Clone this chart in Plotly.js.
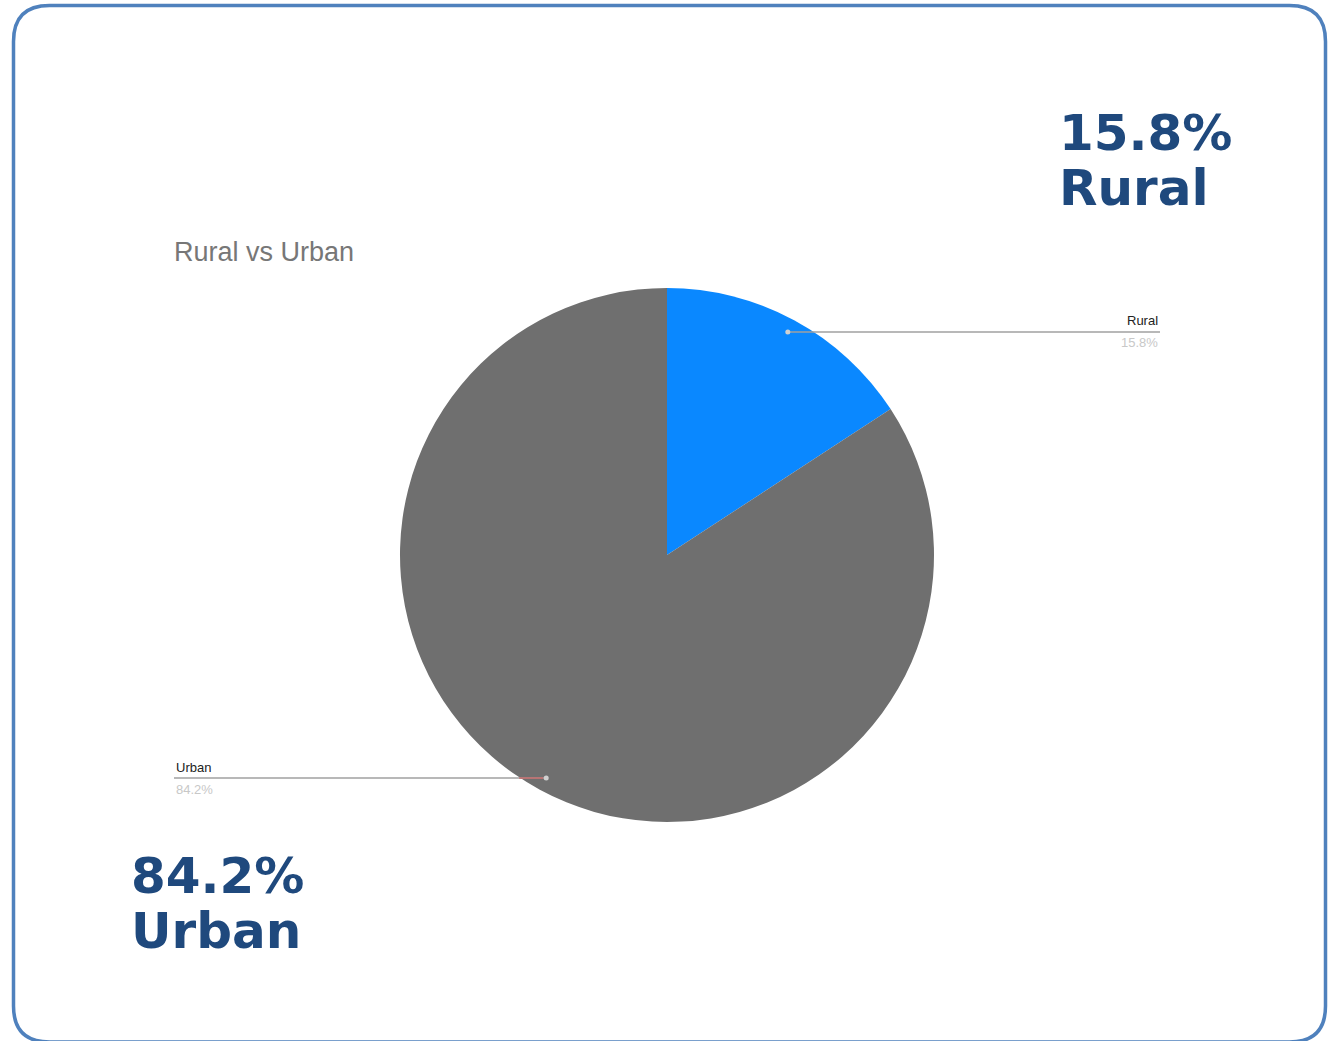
<!DOCTYPE html>
<html>
<head>
<meta charset="utf-8">
<script src="https://cdn.plot.ly/plotly-3.0.1.min.js"></script>
<style>html,body{margin:0;padding:0;background:#fff;}#chart{width:1334px;height:1041px;}</style>
</head>
<body>
<div id="chart"></div>
<script>
// ---- data ----
const categories = ["Rural", "Urban"];
const shares = [15.8, 84.2];
const sliceColors = ["#0a88ff", "#6f6f6f"];
const chartTitle = "Rural vs Urban";

// ---- layout helpers ----
const W = 1334, H = 1041;
const px = x => x / W;
const py = y => 1 - y / H;

// pie geometry (pixels)
const cx = 667, cy = 555, R = 267;
const total = shares.reduce((a, b) => a + b, 0);

// mid-angle of each slice (clockwise from 12 o'clock)
let acc = 0;
const mids = shares.map(v => { const m = (acc + v / 2) / total * 2 * Math.PI; acc += v; return m; });
const anchors = mids.map(a => ({ x: cx + 0.95 * R * Math.sin(a), y: cy - 0.95 * R * Math.cos(a) }));

const shapes = [];
// rounded border
const L = 13.5, T = 5.5, Rt = 1325.5, B = 1042, r = 36;
const path = `M ${px(L + r)},${py(T)} L ${px(Rt - r)},${py(T)} Q ${px(Rt)},${py(T)} ${px(Rt)},${py(T + r)} ` +
  `L ${px(Rt)},${py(B - r)} Q ${px(Rt)},${py(B)} ${px(Rt - r)},${py(B)} L ${px(L + r)},${py(B)} ` +
  `Q ${px(L)},${py(B)} ${px(L)},${py(B - r)} L ${px(L)},${py(T + r)} Q ${px(L)},${py(T)} ${px(L + r)},${py(T)} Z`;
shapes.push({ type: "path", xref: "paper", yref: "paper", path: path, line: { color: "#4f81bd", width: 3.5 } });

// leader lines
const labelEnds = [1160, 174];
anchors.forEach((p, i) => {
  shapes.push({ type: "line", xref: "paper", yref: "paper", x0: px(p.x), y0: py(p.y), x1: px(labelEnds[i]), y1: py(p.y),
    line: { color: "#a0a0a0", width: 1.5 } });
  shapes.push({ type: "circle", xref: "paper", yref: "paper", x0: px(p.x - 2.5), x1: px(p.x + 2.5), y0: py(p.y - 2.5), y1: py(p.y + 2.5),
    fillcolor: "#d0d0d0", line: { width: 0 } });
});
// reddish segment near urban anchor
shapes.push({ type: "line", xref: "paper", yref: "paper", x0: px(anchors[1].x - 27), y0: py(anchors[1].y), x1: px(anchors[1].x - 3), y1: py(anchors[1].y),
  line: { color: "#c46a6a", width: 1.5 } });

const annotations = [];
// chart title
annotations.push({ xref: "paper", yref: "paper", x: px(172), y: py(252), xanchor: "left", yanchor: "middle", showarrow: false,
  text: chartTitle, font: { family: "Liberation Sans, Arial, sans-serif", size: 27, color: "#777777" } });
// small labels
const smallX = [1160, 174];
const smallAnchor = ["right", "left"];
anchors.forEach((p, i) => {
  annotations.push({ xref: "paper", yref: "paper", x: px(smallX[i]), y: py(p.y - 11), xanchor: smallAnchor[i], yanchor: "middle", showarrow: false,
    text: categories[i], font: { family: "Liberation Sans, Arial, sans-serif", size: 13, color: "#222222" } });
  annotations.push({ xref: "paper", yref: "paper", x: px(smallX[i]), y: py(p.y + 11), xanchor: smallAnchor[i], yanchor: "middle", showarrow: false,
    text: shares[i].toFixed(1) + "%", font: { family: "Liberation Sans, Arial, sans-serif", size: 13, color: "#c8c8c8" } });
});
// big callouts
const bigPos = [{ x: 1057, y: 133 }, { x: 129, y: 876 }];
const bigFont = { family: "DejaVu Sans, Verdana, sans-serif", size: 50, color: "#1f497d", weight: "bold" };
categories.forEach((c, i) => {
  annotations.push({ xref: "paper", yref: "paper", x: px(bigPos[i].x), y: py(bigPos[i].y), xanchor: "left", yanchor: "middle", showarrow: false,
    text: "<b>" + shares[i].toFixed(1) + "%</b>", font: bigFont });
  annotations.push({ xref: "paper", yref: "paper", x: px(bigPos[i].x), y: py(bigPos[i].y + 55), xanchor: "left", yanchor: "middle", showarrow: false,
    text: "<b>" + c + "</b>", font: bigFont });
});

const data = [{
  type: "pie",
  labels: categories,
  values: shares,
  sort: false,
  direction: "clockwise",
  rotation: 0,
  textinfo: "none",
  hoverinfo: "label+percent",
  marker: { colors: sliceColors, line: { width: 0 } },
  domain: { x: [px(cx - R), px(cx + R)], y: [py(cy + R), py(cy - R)] },
  showlegend: false
}];

const layout = {
  width: W, height: H,
  margin: { l: 0, r: 0, t: 0, b: 0 },
  paper_bgcolor: "#ffffff",
  showlegend: false,
  shapes: shapes,
  annotations: annotations
};

Plotly.newPlot("chart", data, layout, { displayModeBar: false, staticPlot: true });
</script>
</body>
</html>
